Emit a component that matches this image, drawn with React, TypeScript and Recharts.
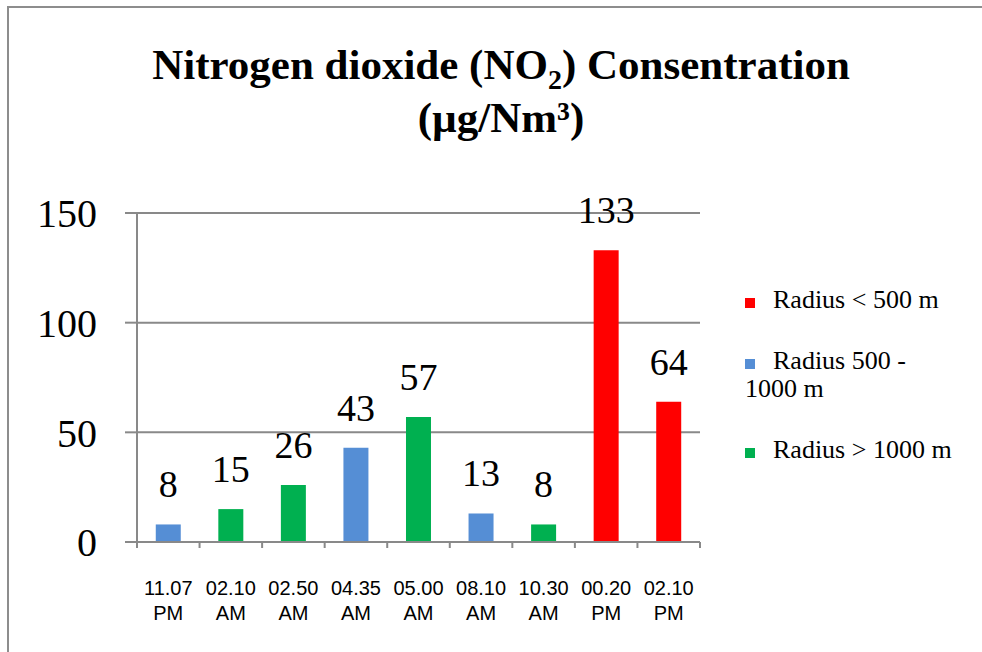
import React from 'react';
import { BarChart, Bar, XAxis, YAxis, CartesianGrid, Legend, LabelList } from 'recharts';

// Sampling times (one bar per time slot)
const timeLabels = ['11.07 PM', '02.10 AM', '02.50 AM', '04.35 AM', '05.00 AM', '08.10 AM', '10.30 AM', '00.20 PM', '02.10 PM'];

// NO2 concentration (µg/Nm³) per distance band; null where the slot belongs to another band
const radiusUnder500 = [null, null, null, null, null, null, null, 133, 64];
const radius500to1000 = [8, null, null, 43, null, 13, null, null, null];
const radiusOver1000 = [null, 15, 26, null, 57, null, 8, null, null];

const seriesNames = ['Radius < 500 m', 'Radius 500 - 1000 m', 'Radius > 1000 m'];
const seriesColors = ['#FF0000', '#558ED5', '#00B050'];

const yTicks = [0, 50, 100, 150];

const data = timeLabels.map((time, i) => ({
  time,
  near: radiusUnder500[i],
  mid: radius500to1000[i],
  far: radiusOver1000[i],
}));

const SERIF = '"Liberation Serif", "Times New Roman", serif';
const SANS = '"Liberation Sans", Arial, sans-serif';
const GRID = '#898989';

// Category tick: two-line time label plus short marks on the slot boundaries
const TimeTick = (props: any) => {
  const { x, y, payload, width, visibleTicksCount, index } = props;
  const [clock, half] = String(payload.value).split(' ');
  const half_band = width / visibleTicksCount / 2;
  const isLast = index === visibleTicksCount - 1;
  return (
    <g transform={`translate(${x},${y})`}>
      <line x1={-half_band} x2={-half_band} y1={0} y2={6} stroke={GRID} strokeWidth={2} />
      {isLast && <line x1={half_band} x2={half_band} y1={0} y2={6} stroke={GRID} strokeWidth={2} />}
      <text textAnchor="middle" fontFamily={SANS} fontSize={20} fill="#000">
        <tspan x={0} y={53}>{clock}</tspan>
        <tspan x={0} y={78}>{half}</tspan>
      </text>
    </g>
  );
};

const LegendList = (props: any) => {
  const items = [...(props.payload || [])].sort(
    (a: any, b: any) => seriesNames.indexOf(a.value) - seriesNames.indexOf(b.value)
  );
  return (
    <div style={{ fontFamily: SERIF, fontSize: 26, lineHeight: '28px', color: '#000' }}>
      {items.map((item: any) => (
        <div key={item.value} style={{ marginBottom: 33 }}>
          <span
            style={{
              display: 'inline-block',
              width: 10,
              height: 10,
              background: item.color,
              marginRight: 18,
            }}
          />
          {item.value}
        </div>
      ))}
    </div>
  );
};

const labelStyle = { fontFamily: SERIF, fontSize: 38, fill: '#000' };

export default function App() {
  return (
    <div
      style={{
        position: 'fixed',
        left: 0,
        top: 0,
        width: 982,
        height: 652,
        background: '#fff',
        overflow: 'hidden',
      }}
    >
      <div
        style={{
          position: 'absolute',
          left: 7,
          top: 6,
          width: 1100,
          height: 800,
          borderLeft: '2px solid #8d8d8d',
          borderTop: '2px solid #8d8d8d',
        }}
      />
      <div
        style={{
          position: 'absolute',
          left: 10,
          top: 41,
          width: 982,
          textAlign: 'center',
          fontFamily: SERIF,
          fontWeight: 'bold',
          fontSize: 43,
          lineHeight: '48px',
          color: '#000',
        }}
      >
        <div>
          Nitrogen dioxide (NO
          <span style={{ fontSize: 28, position: 'relative', top: 10 }}>2</span>) Consentration
        </div>
        <div>(µg/Nm³)</div>
      </div>
      <div style={{ position: 'absolute', left: 0, top: 0 }}>
        <BarChart
          width={982}
          height={652}
          data={data}
          margin={{ top: 213, right: 282, bottom: 10, left: 7 }}
          barCategoryGap="30%"
        >
          <CartesianGrid vertical={false} stroke={GRID} strokeWidth={2} />
          <XAxis
            dataKey="time"
            height={100}
            axisLine={{ stroke: GRID, strokeWidth: 2 }}
            tickLine={false}
            tickSize={0}
            tickMargin={0}
            interval={0}
            tick={TimeTick}
          />
          <YAxis
            domain={[0, 150]}
            ticks={yTicks}
            width={130}
            axisLine={{ stroke: GRID, strokeWidth: 2 }}
            tickLine={{ stroke: GRID, strokeWidth: 2 }}
            tickSize={12}
            tickMargin={28}
            tick={{ fontFamily: SERIF, fontSize: 40, fill: '#000' }}
          />
          <Legend
            layout="vertical"
            align="center"
            verticalAlign="middle"
            wrapperStyle={{ left: 745, top: 286, width: 212 }}
            content={LegendList}
          />
          <Bar dataKey="near" name={seriesNames[0]} stackId="slot" fill={seriesColors[0]} isAnimationActive={false}>
            <LabelList dataKey="near" position="top" offset={27} style={labelStyle} />
          </Bar>
          <Bar dataKey="mid" name={seriesNames[1]} stackId="slot" fill={seriesColors[1]} isAnimationActive={false}>
            <LabelList dataKey="mid" position="top" offset={27} style={labelStyle} />
          </Bar>
          <Bar dataKey="far" name={seriesNames[2]} stackId="slot" fill={seriesColors[2]} isAnimationActive={false}>
            <LabelList dataKey="far" position="top" offset={27} style={labelStyle} />
          </Bar>
        </BarChart>
      </div>
    </div>
  );
}
